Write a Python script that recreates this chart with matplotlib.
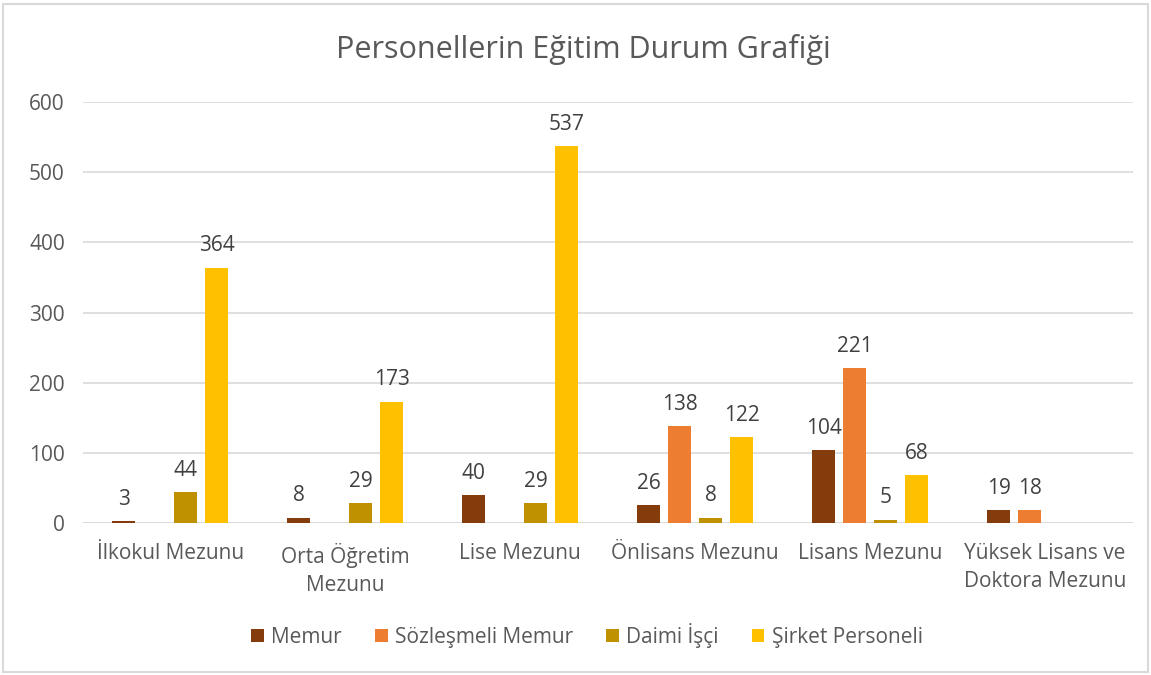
import numpy as np
import matplotlib.pyplot as plt
from matplotlib.patches import Rectangle

plt.rcParams['font.family'] = ['Open Sans', 'DejaVu Sans']

categories = ['İlkokul Mezunu', 'Orta Öğretim\nMezunu', 'Lise Mezunu',
              'Önlisans Mezunu', 'Lisans Mezunu', 'Yüksek Lisans ve\nDoktora Mezunu']
series = ['Memur', 'Sözleşmeli Memur', 'Daimi İşçi', 'Şirket Personeli']
memur = [3, 8, 40, 26, 104, 19]
sozlesmeli = [0, 0, 0, 138, 221, 18]
daimi = [44, 29, 29, 8, 5, 0]
sirket = [364, 173, 537, 122, 68, 0]
colors = ['#843C0C', '#ED7D31', '#BF9000', '#FFC000']

txt = '#595959'
fig = plt.figure(figsize=(11.51, 6.75), dpi=100)
ax = fig.add_axes([0.072, 0.225, 0.912, 0.624])

x = np.arange(len(categories))
step = 0.177
w = 0.132
for i, (vals, name) in enumerate(zip([memur, sozlesmeli, daimi, sirket], series)):
    pos = x + (i - 1.5) * step
    bars = ax.bar(pos, vals, w, color=colors[i], label=name, zorder=3)
    for b, v in zip(bars, vals):
        if v > 0:
            ax.text(b.get_x() + b.get_width() / 2, v + 16, str(v), ha='center',
                    va='bottom', fontsize=15, color='#404040')

ax.set_xlim(-0.5, len(categories) - 0.5)
ax.set_ylim(0, 600)
ax.set_yticks(range(0, 601, 100))
ax.yaxis.grid(True, color='#D9D9D9', linewidth=1.2, zorder=0)
for s in ax.spines.values():
    s.set_visible(False)
ax.axhline(0, color='#D9D9D9', linewidth=1.2, zorder=2)
ax.tick_params(axis='both', length=0, labelsize=15, colors=txt)
ax.tick_params(axis='x', pad=14)
ax.tick_params(axis='y', pad=13)
ax.set_xticks(x)
ax.set_xticklabels(categories, fontsize=15, color=txt, linespacing=1.45)

fig.text(0.507, 0.926, 'Personellerin Eğitim Durum Grafiği', ha='center', va='center',
         fontsize=22, color=txt)
fig.legend(loc='center', bbox_to_anchor=(0.51, 0.059), ncol=4, frameon=False,
           fontsize=15, handlelength=0.6, handleheight=0.6, handletextpad=0.35,
           columnspacing=1.6, labelcolor=txt)

fig.patches.append(Rectangle((0.003, 0.004), 0.994, 0.99, transform=fig.transFigure,
                             fill=False, edgecolor='#D9D9D9', linewidth=1.5))

plt.savefig('out.png', dpi=100)
